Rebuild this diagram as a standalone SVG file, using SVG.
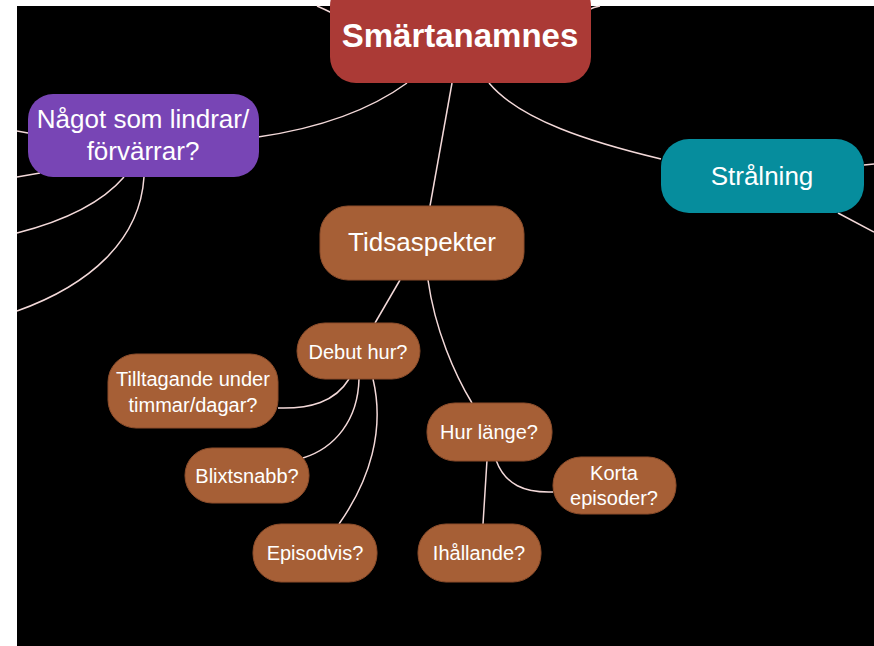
<svg xmlns="http://www.w3.org/2000/svg" width="874" height="646" viewBox="0 0 874 646">
  <style>
    .bg { fill: #000; }
    .edge { fill: none; stroke: #f3d9d9; stroke-width: 1.5; }
    .lbl { font-family: "Liberation Sans", Arial, sans-serif; fill: #fff; text-anchor: middle; }
    .root { fill: #ab3a36; }
    .purple { fill: #7845b5; }
    .teal { fill: #068d9d; }
    .brown { fill: #a65f36; stroke: #8c4d2b; stroke-width: 1; }
    .big { font-size: 26px; }
    .small { font-size: 20px; }
  </style>

  <rect x="0" y="0" width="874" height="646" fill="#fff"/>
  <rect class="bg" x="17" y="6" width="857" height="640"/>

  <!-- connectors -->
  <g id="connectors">
    <path class="edge" d="M317,6 Q324,9 332,13"/>
    <path class="edge" d="M588,10 Q594,7 600,6"/>
    <path class="edge" d="M407,83 C370,110 320,128 258,137"/>
    <path class="edge" d="M452,83 L430,206"/>
    <path class="edge" d="M489,83 C520,120 590,142 661,159"/>
    <path class="edge" d="M864,165 L874,164"/>
    <path class="edge" d="M838,213 L874,232"/>
    <path class="edge" d="M28,133 L17,131"/>
    <path class="edge" d="M40,173 L17,177"/>
    <path class="edge" d="M124,177 C100,205 60,222 17,233"/>
    <path class="edge" d="M144,177 C140,240 90,285 17,311"/>
    <path class="edge" d="M400,280 L375,323"/>
    <path class="edge" d="M428,280 C435,330 455,375 472,403"/>
    <path class="edge" d="M349,379 C335,402 310,409 278,408"/>
    <path class="edge" d="M359,379 C358,420 335,448 303,458"/>
    <path class="edge" d="M373,379 C385,430 370,480 339,524"/>
    <path class="edge" d="M487,460 L483,524"/>
    <path class="edge" d="M496,460 C505,485 525,493 553,492"/>
  </g>

  <g id="root-smartanamnes">
    <rect class="root" x="330" y="-20" width="261" height="103" rx="26"/>
    <text class="lbl" x="460" y="47" font-size="33" font-weight="bold">Smärtanamnes</text>
  </g>

  <g id="node-lindrar">
    <rect class="purple" x="28" y="94" width="231" height="83" rx="25"/>
    <text class="lbl big" x="143" y="128">Något som lindrar/</text>
    <text class="lbl big" x="143" y="160">förvärrar?</text>
  </g>

  <g id="node-stralning">
    <rect class="teal" x="661" y="139" width="203" height="74" rx="28"/>
    <text class="lbl big" x="762" y="185">Strålning</text>
  </g>

  <g id="node-tidsaspekter">
    <rect class="brown" x="320" y="206" width="204" height="74" rx="28"/>
    <text class="lbl big" x="422" y="251">Tidsaspekter</text>
  </g>

  <g id="node-debut">
    <rect class="brown" x="297" y="323" width="123" height="56" rx="28"/>
    <text class="lbl small" x="358" y="359">Debut hur?</text>
  </g>

  <g id="node-tilltagande">
    <rect class="brown" x="108" y="354" width="170" height="74" rx="28"/>
    <text class="lbl small" x="193" y="386">Tilltagande under</text>
    <text class="lbl small" x="193" y="412">timmar/dagar?</text>
  </g>

  <g id="node-blixtsnabb">
    <rect class="brown" x="185" y="448" width="124" height="55" rx="27"/>
    <text class="lbl small" x="247" y="483">Blixtsnabb?</text>
  </g>

  <g id="node-episodvis">
    <rect class="brown" x="253" y="524" width="124" height="58" rx="28"/>
    <text class="lbl small" x="315" y="560">Episodvis?</text>
  </g>

  <g id="node-hur-lange">
    <rect class="brown" x="427" y="403" width="125" height="58" rx="28"/>
    <text class="lbl small" x="489" y="439">Hur länge?</text>
  </g>

  <g id="node-korta">
    <rect class="brown" x="553" y="457" width="123" height="57" rx="28"/>
    <text class="lbl small" x="614" y="480">Korta</text>
    <text class="lbl small" x="614" y="505">episoder?</text>
  </g>

  <g id="node-ihallande">
    <rect class="brown" x="418" y="524" width="123" height="58" rx="28"/>
    <text class="lbl small" x="479" y="560">Ihållande?</text>
  </g>
</svg>
